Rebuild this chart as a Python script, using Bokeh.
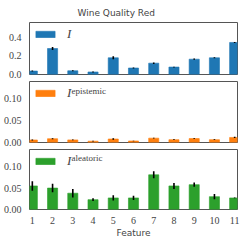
from bokeh.plotting import figure
from bokeh.layouts import column
from bokeh.models import Range1d, FixedTicker, Legend, LegendItem, Label, CustomJSTickFormatter
from bokeh.embed import file_html
from bokeh.resources import INLINE

features = [1, 2, 3, 4, 5, 6, 7, 8, 9, 10, 11]
feature_labels = [str(f) for f in features]

I_total = [0.037, 0.28, 0.04, 0.027, 0.18, 0.07, 0.122, 0.08, 0.165, 0.18, 0.345]
I_total_err = [0.006, 0.015, 0.005, 0.005, 0.017, 0.006, 0.008, 0.004, 0.007, 0.005, 0.006]

I_epi = [0.0058, 0.0087, 0.006, 0.003, 0.008, 0.0035, 0.010, 0.0065, 0.009, 0.0065, 0.0116]
I_epi_err = [0.0012, 0.0010, 0.0010, 0.0008, 0.0015, 0.0008, 0.0008, 0.0008, 0.0008, 0.0010, 0.0015]

I_ale = [0.055, 0.05, 0.038, 0.023, 0.027, 0.027, 0.081, 0.055, 0.058, 0.03, 0.027]
I_ale_err = [0.011, 0.010, 0.010, 0.003, 0.006, 0.005, 0.008, 0.007, 0.005, 0.006, 0.001]

top_ticks = [0.0, 0.2, 0.4]
top_tick_labels = ["0.0", "0.2", "0.4"]
low_ticks = [0.0, 0.05, 0.10]
low_tick_labels = ["0.00", "0.05", "0.10"]

colors = ["#1f77b4", "#ff7f0e", "#2ca02c"]
SERIF = "Liberation Serif"
SANS = "DejaVu Sans"

x_range = Range1d(0.86, 11.14)
W = 241
FRAME_H = 61

JS_FMT = """
let best = 0;
for (let i = 0; i < tvals.length; i++) {
  if (Math.abs(tvals[i] - tick) < Math.abs(tvals[best] - tick)) best = i;
}
return tlabs[best];
"""


def make_panel(vals, errs, color, ymax, ticks, tlabels, sup, title=None, bottom=False):
    top_border = 2
    bot_border = 30 if bottom else 5
    p = figure(width=W, height=FRAME_H + top_border + bot_border,
               x_range=x_range, y_range=Range1d(0, ymax),
               output_backend="svg", toolbar_location=None,
               min_border_left=22, min_border_right=4,
               min_border_top=top_border, min_border_bottom=bot_border,
               title=title)
    if title is not None:
        p.height = FRAME_H + 13 + bot_border
        p.min_border_top = 0
        p.title.text_font = SANS
        p.title.text_font_size = "9px"
        p.title.text_font_style = "normal"
        p.title.align = "left"
        p.title.offset = 48
    r = p.vbar(x=features, top=vals, width=0.5, fill_color=color, line_color=color, line_alpha=0.6)
    lo = [v - e for v, e in zip(vals, errs)]
    hi = [v + e for v, e in zip(vals, errs)]
    p.segment(x0=features, y0=lo, x1=features, y1=hi, line_color="black", line_width=1.6)

    p.xgrid.visible = False
    p.ygrid.visible = False
    p.outline_line_color = "#555555"
    p.outline_line_width = 1

    p.yaxis.ticker = FixedTicker(ticks=ticks)
    p.yaxis.formatter = CustomJSTickFormatter(args=dict(tvals=ticks, tlabs=tlabels), code=JS_FMT)
    p.yaxis.axis_line_color = None
    p.yaxis.major_tick_line_color = None
    p.yaxis.minor_tick_line_color = None
    p.yaxis.major_label_text_font = SERIF
    p.yaxis.major_label_text_font_size = "10px"
    p.yaxis.major_label_standoff = 2

    p.xaxis.ticker = FixedTicker(ticks=features)
    p.xaxis.formatter = CustomJSTickFormatter(args=dict(tvals=features, tlabs=feature_labels), code=JS_FMT)
    p.xaxis.axis_line_color = None
    p.xaxis.major_tick_line_color = None
    p.xaxis.minor_tick_line_color = None
    p.xaxis.major_label_text_font = SERIF
    p.xaxis.major_label_text_font_size = "10px"
    p.xaxis.major_label_standoff = 1
    if bottom:
        p.xaxis.axis_label = "Feature"
        p.xaxis.axis_label_text_font = SANS
        p.xaxis.axis_label_text_font_size = "9px"
        p.xaxis.axis_label_text_font_style = "normal"
        p.xaxis.axis_label_standoff = 1
    else:
        p.xaxis.visible = False

    leg = Legend(items=[LegendItem(label="I", renderers=[r])], location="top_left",
                 border_line_color=None, background_fill_alpha=0,
                 glyph_width=24, glyph_height=8, label_height=8, label_text_font=SERIF,
                 label_text_font_style="italic", label_text_font_size="13px",
                 padding=2, margin=4, label_standoff=10, spacing=0)
    p.add_layout(leg)
    if sup:
        p.add_layout(Label(x=42, y=FRAME_H - 4, x_units="screen", y_units="screen",
                           text=sup, text_font=SERIF, text_font_size="9px",
                           text_baseline="top", text_align="left"))
    return p


p1 = make_panel(I_total, I_total_err, colors[0], 0.56, top_ticks, top_tick_labels, None,
                title="Wine Quality Red")
p2 = make_panel(I_epi, I_epi_err, colors[1], 0.14, low_ticks, low_tick_labels, "epistemic")
p3 = make_panel(I_ale, I_ale_err, colors[2], 0.14, low_ticks, low_tick_labels, "aleatoric",
                bottom=True)

layout = column(p1, p2, p3, spacing=0)
open("out.html", "w").write(file_html(layout, INLINE))
